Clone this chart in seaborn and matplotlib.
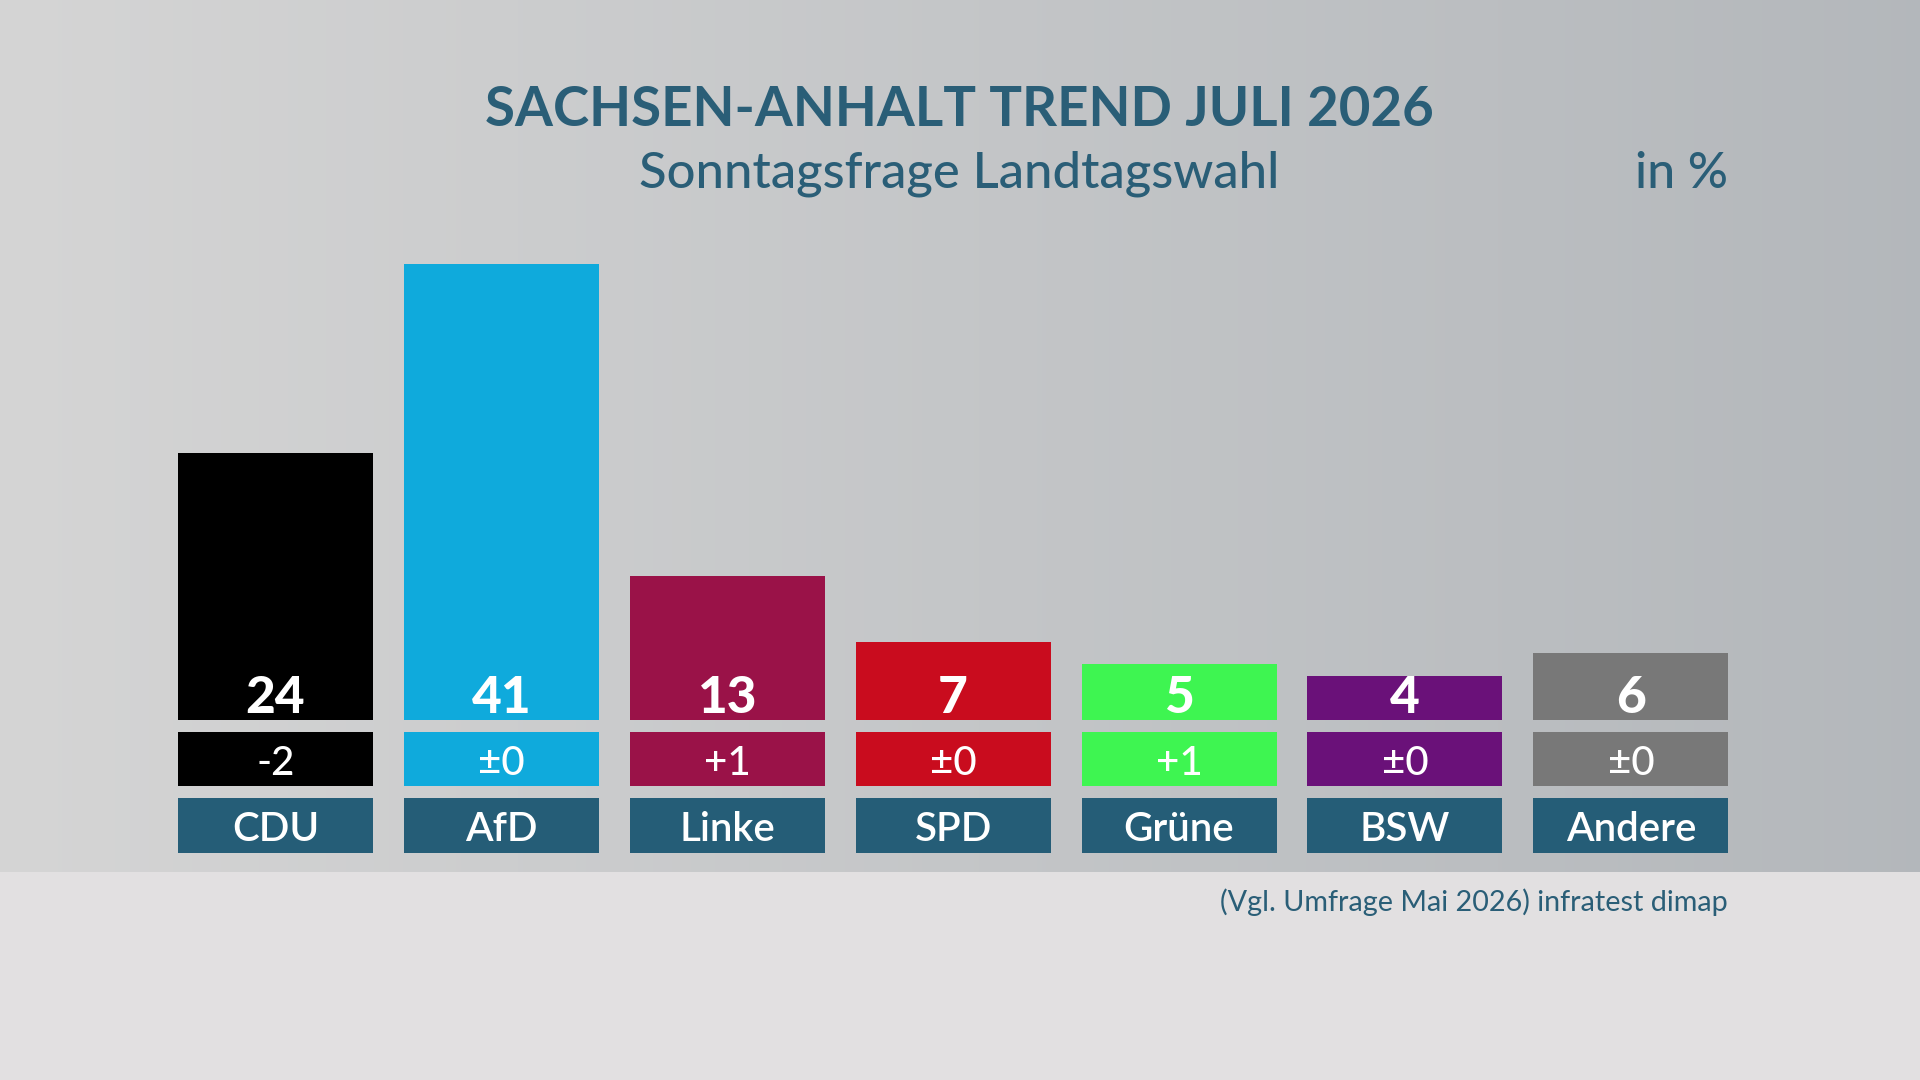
import numpy as np
import pandas as pd
import matplotlib
matplotlib.use("Agg")
import matplotlib.pyplot as plt
import seaborn as sns

parties = ["CDU", "AfD", "Linke", "SPD", "Grüne", "BSW", "Andere"]
values = [24, 41, 13, 7, 5, 4, 6]
changes = ["-2", "±0", "+1", "±0", "+1", "±0", "±0"]
colors = ["#000000", "#0faadc", "#9a1248", "#c90c1e", "#3ef551", "#6a1179", "#787878"]

title = "SACHSEN-ANHALT TREND JULI 2026"
subtitle = "Sonntagsfrage Landtagswahl"
unit = "in %"
source = "(Vgl. Umfrage Mai 2026) infratest dimap"

teal = "#2a5e77"
name_box = "#255d77"

sns.set_theme(style="white")
plt.rcParams['font.family'] = ['Lato', 'DejaVu Sans']

W, H = 1920, 1080
fig = plt.figure(figsize=(W / 100, H / 100), dpi=100)

# background: horizontal grey gradient + light footer band
bg = fig.add_axes([0, 0, 1, 1])
t = np.linspace(0, 1, 400)
left = np.array([0.835, 0.835, 0.835])
right = np.array([0.705, 0.72, 0.735])
grad = left[None, :] * (1 - t[:, None]) + right[None, :] * t[:, None]
grad = np.tile(grad[None, :, :], (10, 1, 1))
bg.imshow(grad, extent=[0, W, 0, H], aspect='auto', origin='lower')
bg.add_patch(plt.Rectangle((0, 0), W, H - 872, color="#e2e0e1", lw=0))
bg.set_xlim(0, W)
bg.set_ylim(0, H)
bg.axis('off')

# main axes: 11.11 px per percent, zero line at pixel row 720
ppu = 11.11
y_lo, y_hi = -13, 45
pix_lo = 720 - y_lo * ppu
pix_hi = 720 - y_hi * ppu
x_left = 162.5
x_w = 7 * 225.9
ax = fig.add_axes([x_left / W, (H - pix_lo) / H, x_w / W, (pix_lo - pix_hi) / H])
ax.patch.set_alpha(0)

df = pd.DataFrame({"party": parties, "value": values})
sns.barplot(data=df, x="party", y="value", hue="party", palette=colors,
            legend=False, width=0.863, saturation=1, linewidth=0,
            edgecolor="none", ax=ax)

xs = np.arange(len(parties))
# change row and name row boxes
ax.bar(xs, -4.86, bottom=-1.08, width=0.863, color=colors, lw=0)
ax.bar(xs, -4.95, bottom=-7.02, width=0.863, color=name_box, lw=0)

for x, v, c, p in zip(xs, values, changes, parties):
    ax.text(x, 0.65, str(v), ha='center', va='baseline', color='white',
            fontsize=37, fontweight='black')
    ax.text(x, -3.6, c, ha='center', va='center_baseline', color='white',
            fontsize=29, fontweight='medium')
    ax.text(x, -9.5, p, ha='center', va='center_baseline', color='white',
            fontsize=29, fontweight='semibold')

ax.set_xlim(-0.5, len(parties) - 0.5)
ax.set_ylim(y_lo, y_hi)
ax.axis('off')

fig.text(959 / W, 1 - 110 / H, title, ha='center', va='center', color=teal,
         fontsize=39.3, fontweight='bold')
fig.text(959 / W, 1 - 174 / H, subtitle, ha='center', va='center', color=teal,
         fontsize=36.5, fontweight='medium')
fig.text(1728 / W, 1 - 174 / H, unit, ha='right', va='center', color=teal,
         fontsize=36, fontweight='medium')
fig.text(1728 / W, 1 - 902 / H, source, ha='right', va='center', color=teal,
         fontsize=20.7)

fig.savefig("out.png", dpi=100)
